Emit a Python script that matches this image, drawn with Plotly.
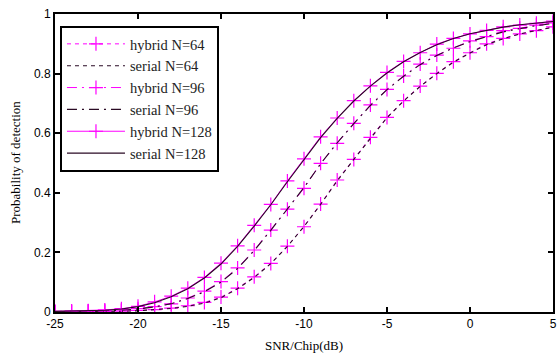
import plotly.graph_objects as go

snr = list(range(-25, 6))

serial_128 = [0.002, 0.003, 0.004, 0.006, 0.010, 0.018, 0.031, 0.051, 0.078, 0.114, 0.161, 0.220,
              0.288, 0.360, 0.437, 0.512, 0.585, 0.650, 0.708, 0.758, 0.802, 0.840, 0.871, 0.897,
              0.918, 0.934, 0.946, 0.956, 0.964, 0.970, 0.975]
hybrid_128 = [0.002, 0.003, 0.004, 0.007, 0.011, 0.019, 0.034, 0.053, 0.080, 0.116, 0.164, 0.222,
              0.291, 0.361, 0.440, 0.514, 0.588, 0.651, 0.709, 0.759, 0.804, 0.841, 0.870, 0.899,
              0.918, 0.933, 0.945, 0.957, 0.963, 0.969, 0.976]

serial_96 = [0.001, 0.002, 0.002, 0.003, 0.006, 0.010, 0.017, 0.028, 0.045, 0.068, 0.100, 0.146,
             0.206, 0.274, 0.344, 0.418, 0.497, 0.568, 0.632, 0.693, 0.746, 0.791, 0.830, 0.861,
             0.886, 0.907, 0.924, 0.940, 0.951, 0.961, 0.968]
hybrid_96 = [0.001, 0.002, 0.003, 0.004, 0.007, 0.011, 0.018, 0.027, 0.047, 0.070, 0.102, 0.148,
             0.208, 0.275, 0.345, 0.415, 0.499, 0.566, 0.633, 0.695, 0.747, 0.792, 0.832, 0.862,
             0.885, 0.910, 0.924, 0.944, 0.952, 0.963, 0.970]

serial_64 = [0.001, 0.001, 0.001, 0.002, 0.003, 0.004, 0.007, 0.012, 0.019, 0.030, 0.048, 0.078,
             0.116, 0.162, 0.220, 0.287, 0.361, 0.440, 0.512, 0.584, 0.652, 0.708, 0.757, 0.800,
             0.838, 0.869, 0.897, 0.917, 0.933, 0.945, 0.955]
hybrid_64 = [0.001, 0.001, 0.002, 0.002, 0.003, 0.005, 0.008, 0.013, 0.021, 0.032, 0.050, 0.080,
             0.118, 0.163, 0.221, 0.286, 0.362, 0.443, 0.512, 0.586, 0.653, 0.709, 0.758, 0.801,
             0.840, 0.870, 0.900, 0.918, 0.933, 0.944, 0.957]

x_ticks = [-25, -20, -15, -10, -5, 0, 5]
y_ticks = [0, 0.2, 0.4, 0.6, 0.8, 1]
x_title = "SNR/Chip(dB)"
y_title = "Probability of detection"

MAG = "#FF00FF"
fig = go.Figure()

series = [
    ("hybrid N=64", hybrid_64, "hybrid", "4px,4px"),
    ("serial N=64", serial_64, "serial", "4px,4px"),
    ("hybrid N=96", hybrid_96, "hybrid", "10px,5px,2px,5px"),
    ("serial N=96", serial_96, "serial", "10px,5px,2px,5px"),
    ("hybrid N=128", hybrid_128, "hybrid", "solid"),
    ("serial N=128", serial_128, "serial", "solid"),
]
for name, vals, kind, dash in series:
    if kind == "hybrid":
        fig.add_trace(go.Scatter(
            x=snr, y=vals, name=name, mode="lines+markers",
            line=dict(color=MAG, width=1, dash=dash),
            marker=dict(symbol="cross-thin", size=10, line=dict(color=MAG, width=1.2)),
        ))
    else:
        fig.add_trace(go.Scatter(
            x=snr, y=vals, name=name, mode="lines",
            line=dict(color="#2a0a24", width=1.1, dash=dash),
        ))

axis_common = dict(
    showline=True, linecolor="black", linewidth=2, mirror="ticks",
    ticks="inside", ticklen=5, tickwidth=1.5, tickcolor="black",
    showgrid=False, zeroline=False, automargin=False,
    tickfont=dict(family="Liberation Sans, Arial", size=12, color="black"),
)

title_font = dict(family="Liberation Serif, Times New Roman", size=13, color="black")

fig.update_layout(
    width=557, height=358,
    margin=dict(l=55, r=4, t=14, b=46),
    paper_bgcolor="white", plot_bgcolor="white",
    xaxis=dict(range=[-25, 5], tickvals=x_ticks, ticktext=[str(v) for v in x_ticks], **axis_common),
    yaxis=dict(range=[0, 1], tickvals=y_ticks, ticktext=["0", "0.2", "0.4", "0.6", "0.8", "1"],
               **axis_common),
    legend=dict(x=0.01, y=0.96, xanchor="left", yanchor="top",
                bgcolor="white", bordercolor="black", borderwidth=2,
                font=dict(family="Liberation Serif, Times New Roman", size=14.5, color="#222"),
                tracegroupgap=0, itemwidth=58, entrywidth=170, entrywidthmode="pixels"),
    showlegend=True,
    annotations=[
        dict(text=x_title, xref="paper", yref="paper", x=0.5, y=0, yshift=-33,
             xanchor="center", yanchor="middle", showarrow=False, font=title_font),
        dict(text=y_title, xref="paper", yref="paper", x=0, y=0.5, xshift=-40,
             xanchor="center", yanchor="middle", textangle=-90, showarrow=False, font=title_font),
    ],
)

fig.write_html("out.html", config={"displayModeBar": False},
               post_script="document.body.style.margin='0';")
